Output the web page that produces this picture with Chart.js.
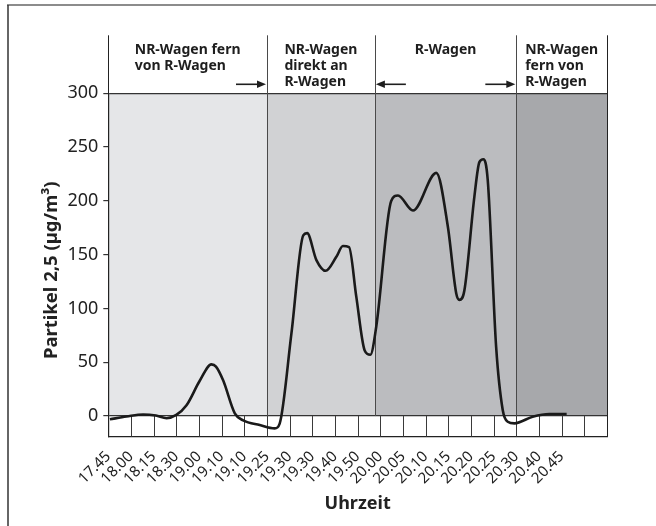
<!DOCTYPE html>
<html>
<head>
<meta charset="utf-8">
<script src="https://cdn.jsdelivr.net/npm/chart.js@4/dist/chart.umd.min.js"></script>
<style>
  html, body { margin: 0; padding: 0; background: #fff; }
  canvas { display: block; }
</style>
</head>
<body>
<canvas id="c" width="656" height="526"></canvas>
<script>
// ---- data ----
const xTickLabels = ['17.45','18.00','18.15','18.30','19.00','19.10','19.10','19.25','19.30','19.30','19.40','19.50','20.00','20.05','20.10','20.15','20.20','20.25','20.30','20.40','20.45'];
const cellCount = 22;
const yTickValues = [0, 50, 100, 150, 200, 250, 300];
const yMin = -19.2;
const yMax = 300;

// measured curve (x in time-slot units, value in µg/m³)
const curveX = [0.07, 0.8, 1.54, 2.1, 2.57, 3.0, 3.45, 4.04, 4.55, 4.75, 5.07, 5.58, 5.95, 6.68, 7.34, 7.56, 8.08, 8.6, 8.77, 9.18, 9.59, 10.06, 10.35, 10.62, 10.94, 11.31, 11.56, 11.82, 12.48, 12.78, 13.44, 14.47, 14.98, 15.35, 15.49, 15.71, 16.15, 16.37, 16.55, 16.74, 17.11, 17.40, 17.62, 17.92, 18.72, 19.46, 20.22];
const curveY = [-3, -0.5, 1.5, 0.5, -2, 1, 10, 33, 48, 46, 33, 2.5, -4, -8.4, -11.5, -7, 77, 168, 170, 145, 135, 148, 158, 157, 111, 61, 57, 83, 200, 205, 191, 226, 176, 114, 108, 117, 204, 236, 238.7, 219, 64, 5.6, -5.3, -6.8, -0.6, 1.9, 1.9];

const bandStart = [0, 7, 11.76, 18];
const bandEnd = [7, 11.76, 18, 22];
const bandColors = ['#e5e6e8', '#d1d2d4', '#bbbcbf', '#a7a8ab'];
const bandLabels = [['NR-Wagen fern', 'von R-Wagen'], ['NR-Wagen', 'direkt an', 'R-Wagen'], ['R-Wagen'], ['NR-Wagen', 'fern von', 'R-Wagen']];
const arrowAt = [7, 11.76, 18];
const arrowDir = [1, -1, 1];

const yTitle = 'Partikel 2,5 (µg/m³)';
const xTitle = 'Uhrzeit';

// ---- chart ----
Chart.defaults.font.family = "'Noto Sans', 'DejaVu Sans', sans-serif";
const headerHeight = 58;

const points = curveX.map((x, i) => ({ x: x, y: curveY[i] }));

const bandsPlugin = {
  id: 'bands',
  beforeDraw(chart) {
    const { ctx, scales: { x, y } } = chart;
    ctx.save();
    ctx.fillStyle = '#fff';
    ctx.fillRect(0, 0, chart.width, chart.height);
    const yTop = y.getPixelForValue(yMax);
    const yZero = y.getPixelForValue(0);
    for (let i = 0; i < bandStart.length; i++) {
      const x0 = x.getPixelForValue(bandStart[i]);
      const x1 = x.getPixelForValue(bandEnd[i]);
      ctx.fillStyle = bandColors[i];
      ctx.fillRect(x0, yTop, x1 - x0, yZero - yTop);
    }
    // frame
    ctx.strokeStyle = '#8c8c8c';
    ctx.lineWidth = 2;
    ctx.beginPath(); ctx.moveTo(7, 5); ctx.lineTo(chart.width, 5); ctx.stroke();
    ctx.strokeStyle = '#333';
    ctx.lineWidth = 1.5;
    ctx.beginPath(); ctx.moveTo(8, 5); ctx.lineTo(8, chart.height); ctx.stroke();
    ctx.restore();
  },
  beforeDatasetsDraw(chart) {
    const { ctx, chartArea, scales: { x, y } } = chart;
    const yTop = y.getPixelForValue(yMax);
    const yZero = y.getPixelForValue(0);
    const hTop = yTop - headerHeight;
    ctx.save();
    ctx.lineWidth = 1;
    ctx.strokeStyle = '#3a3a3a';
    // cells below zero
    for (let i = 0; i <= cellCount; i++) {
      const px = Math.round(x.getPixelForValue(i)) + 0.5;
      ctx.beginPath(); ctx.moveTo(px, yZero); ctx.lineTo(px, chartArea.bottom); ctx.stroke();
    }
    // band boundaries
    const bounds = bandStart.concat([bandEnd[bandEnd.length - 1]]);
    bounds.forEach((b, i) => {
      const px = Math.round(x.getPixelForValue(b)) + 0.5;
      const outer = (i === 0 || i === bounds.length - 1);
      ctx.strokeStyle = outer ? '#222' : '#4a4a4a';
      ctx.beginPath(); ctx.moveTo(px, hTop); ctx.lineTo(px, outer ? chartArea.bottom : yZero); ctx.stroke();
    });
    ctx.restore();
  },
  afterDraw(chart) {
    const { ctx, scales: { x, y } } = chart;
    const yTop = y.getPixelForValue(yMax);
    const hTop = yTop - headerHeight;
    ctx.save();
    ctx.fillStyle = '#1e1e1e';
    ctx.font = "bold 14px 'Noto Sans'";
    ctx.textBaseline = 'alphabetic';
    ctx.textAlign = 'left';
    for (let i = 0; i < bandLabels.length; i++) {
      const cx = (x.getPixelForValue(bandStart[i]) + x.getPixelForValue(bandEnd[i])) / 2;
      const lines = bandLabels[i];
      const w = Math.max(...lines.map(l => ctx.measureText(l).width));
      lines.forEach((l, k) => {
        ctx.fillText(l, cx - w / 2, hTop + 18.3 + k * 16.4);
      });
    }
    // arrows
    ctx.strokeStyle = '#1e1e1e';
    ctx.lineWidth = 1.6;
    const ay = yTop - 9;
    for (let i = 0; i < arrowAt.length; i++) {
      const px = x.getPixelForValue(arrowAt[i]);
      const d = arrowDir[i];
      const tip = d > 0 ? px - 1 : px + 1;
      const tail = tip - d * 30;
      ctx.beginPath(); ctx.moveTo(tail, ay); ctx.lineTo(tip - d * 6, ay); ctx.stroke();
      ctx.beginPath();
      ctx.moveTo(tip, ay);
      ctx.lineTo(tip - d * 9, ay - 3.8);
      ctx.lineTo(tip - d * 9, ay + 3.8);
      ctx.closePath();
      ctx.fill();
    }
    ctx.restore();
  }
};

new Chart(document.getElementById('c'), {
  type: 'line',
  data: {
    datasets: [{
      data: points,
      borderColor: '#1a1a1a',
      borderWidth: 2.6,
      pointRadius: 0,
      fill: false,
      cubicInterpolationMode: 'monotone'
    }]
  },
  options: {
    responsive: false,
    animation: false,
    events: [],
    layout: { padding: { top: 93.3, right: 49, bottom: 0, left: 0 } },
    plugins: { legend: { display: false }, tooltip: { enabled: false } },
    scales: {
      x: {
        type: 'linear',
        min: 0,
        max: cellCount,
        afterBuildTicks: (s) => { s.ticks = xTickLabels.map((_, i) => ({ value: i })); },
        afterFit: (s) => { s.height = 89.3; },
        grid: { display: false },
        border: { display: true, color: '#222', width: 1.2 },
        ticks: {
          autoSkip: false,
          minRotation: 45,
          maxRotation: 45,
          padding: 3,
          color: '#222',
          font: { size: 15 },
          callback: (v) => xTickLabels[v]
        },
        title: {
          display: true,
          text: xTitle,
          color: '#222',
          font: { size: 18, weight: 'bold' },
          padding: { top: 0, bottom: 11.5 }
        }
      },
      y: {
        min: yMin,
        max: yMax,
        afterBuildTicks: (s) => { s.ticks = yTickValues.map(v => ({ value: v })); },
        afterFit: (s) => { s.width = 108.3; },
        grid: {
          drawOnChartArea: true,
          color: (c) => (c.tick && (c.tick.value === 0 || c.tick.value === yMax)) ? '#333' : 'rgba(0,0,0,0)',
          tickColor: '#333',
          tickLength: 5,
          lineWidth: 1.2
        },
        border: { display: true, color: '#222', width: 1.2 },
        ticks: {
          padding: 5,
          color: '#222',
          font: { size: 18 }
        },
        title: {
          display: true,
          text: yTitle + '\u2007',
          color: '#222',
          font: { size: 18.5, weight: 'bold' },
          padding: { top: 40.5, bottom: 0 }
        }
      }
    }
  },
  plugins: [bandsPlugin]
});
</script>
</body>
</html>
